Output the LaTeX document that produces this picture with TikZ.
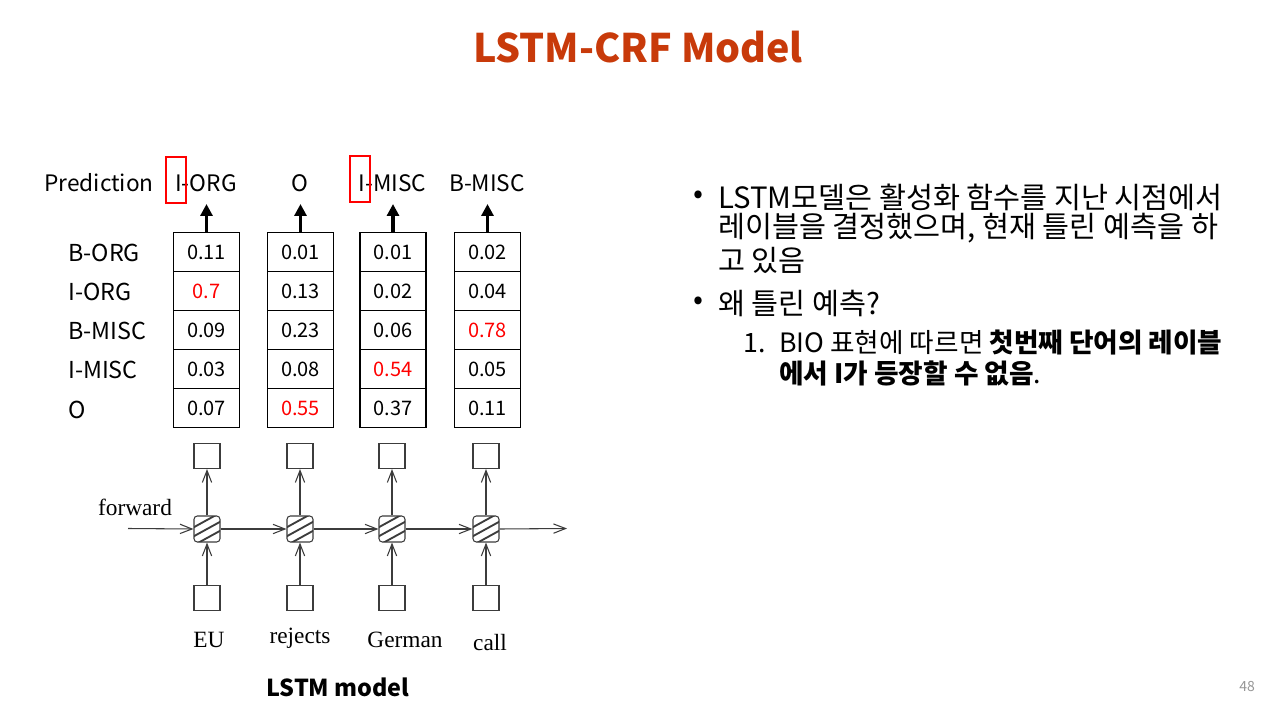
\documentclass[tikz,border=0pt]{standalone}
\usepackage{fontspec}
\setmainfont{Noto Sans CJK KR}
\newfontfamily\wordfont{Liberation Serif}
\usetikzlibrary{arrows.meta}
\definecolor{titlered}{RGB}{200,58,10}
\definecolor{linegray}{RGB}{60,60,60}
\definecolor{pagegray}{RGB}{150,150,150}
\newcommand\hl[1]{\textcolor{red}{#1}}

% one picture unit = one pixel = 0.75pt
\tikzset{
  cell/.style={draw, line width=0.8pt, minimum width=49.5pt, minimum height=29.25pt, inner sep=0pt, font=\fontsize{15}{18}\selectfont},
  rowlabel/.style={anchor=west, inner sep=0pt, font=\fontsize{17.5}{20}\selectfont},
  predlabel/.style={inner sep=0pt, font=\fontsize{17}{20}\selectfont},
  redbox/.style={draw=red, line width=2pt, minimum width=15pt, minimum height=34.5pt, inner sep=0pt},
  bigarrow/.style={line width=2.4pt, -{Triangle[length=9pt,width=9pt]}},
  lstmcell/.style={draw=linegray, line width=0.8pt, rounded corners=2.5pt, minimum size=19.5pt, inner sep=0pt,
    path picture={
      \foreach \k in {-9,0,9}
        \draw[line width=1.4pt]
          ([shift={(-16,8.8+\k)}]path picture bounding box.center) --
          ([shift={(16,-8.8+\k)}]path picture bounding box.center);
    }},
  unitbox/.style={draw=linegray, line width=0.8pt, minimum width=19.5pt, minimum height=18.75pt, inner sep=0pt},
  thinarrow/.style={draw=linegray, line width=0.8pt, -{Straight Barb[length=9pt,width=7pt]}},
  word/.style={inner sep=0pt, font=\wordfont\fontsize{17.5}{20}\selectfont},
  bodytext/.style={anchor=west, inner sep=0pt, font=\fontsize{22}{26}\selectfont},
  subtext/.style={anchor=west, inner sep=0pt, font=\fontsize{20}{24}\selectfont},
}

\begin{document}
\begin{tikzpicture}[x=0.75pt, y=-0.75pt]
\useasboundingbox (0,0) rectangle (1280,720);

% title
\node[text=titlered, font=\bfseries\fontsize{29.5}{34}\selectfont] (title) at (638,47) {LSTM-CRF Model};

% prediction row
\node[predlabel, anchor=west] (predword) at (44,183) {Prediction};
\node[predlabel] (p1) at (206,183) {I-ORG};
\node[predlabel] (p2) at (300,183) {O};
\node[predlabel] (p3) at (392.5,183) {I-MISC};
\node[predlabel] (p4) at (487,183) {B-MISC};
\node[redbox] (r1) at (176,180) {};
\node[redbox] (r3) at (360,179) {};

% tag labels
\node[rowlabel] (l1) at (68,253) {B-ORG};
\node[rowlabel] (l2) at (68,292) {I-ORG};
\node[rowlabel] (l3) at (68,331) {B-MISC};
\node[rowlabel] (l4) at (68,370) {I-MISC};
\node[rowlabel] (l5) at (68,410) {O};

% score columns
\foreach \c/\x/\vals in {
  1/206.5/{0.11,\hl{0.7},0.09,0.03,0.07},
  2/300.5/{0.01,0.13,0.23,0.08,\hl{0.55}},
  3/393/{0.01,0.02,0.06,\hl{0.54},0.37},
  4/487.5/{0.02,0.04,\hl{0.78},0.05,0.11}} {
  \foreach \v [count=\r] in \vals {
    \node[cell] (t\c-\r) at (\x,{213+39*\r}) {\v};
  }
  \coordinate (a\c) at (\x,204);
  \draw[bigarrow] (t\c-1.north) -- (a\c);
}

% LSTM chain
\coordinate (start) at (128,528.5);
\coordinate (finish) at (567,528.5);
\foreach \i/\x in {1/207,2/300,3/392,4/486} {
  \node[lstmcell] (c\i) at (\x,529) {};
  \node[unitbox] (o\i) at (\x,456) {};
  \node[unitbox] (w\i) at (\x,598) {};
  \draw[thinarrow] (c\i.north) -- (o\i.south);
  \draw[thinarrow] (w\i.north) -- (c\i.south);
}
\draw[thinarrow] (start) -- (c1.west);
\draw[thinarrow] (c1.east) -- (c2.west);
\draw[thinarrow] (c2.east) -- (c3.west);
\draw[thinarrow] (c3.east) -- (c4.west);
\draw[thinarrow] (c4.east) -- (finish);

\node[word] (fw) at (135,507) {forward};
\node[word] (e1) at (209,640) {EU};
\node[word] (e2) at (300,638) {rejects};
\node[word] (e3) at (405,640) {German};
\node[word] (e4) at (490,643) {call};

\node[font=\bfseries\fontsize{17.5}{21}\selectfont] (cap) at (338,687) {LSTM model};

% explanation
\node[bodytext] (b1) at (693,197) {•};
\node[bodytext] (t1) at (718,197) {LSTM모델은 활성화 함수를 지난 시점에서};
\node[bodytext] (t2) at (718,228) {레이블을 결정했으며, 현재 틀린 예측을 하};
\node[bodytext] (t3) at (718,260) {고 있음};
\node[bodytext] (b2) at (693,303) {•};
\node[bodytext] (t4) at (718,303) {왜 틀린 예측?};
\node[subtext] (n1) at (743,343) {1.};
\node[subtext] (t5) at (779,343) {BIO 표현에 따르면 \textbf{첫번째 단어의 레이블}};
\node[subtext] (t6) at (779,373) {\textbf{에서 I가 등장할 수 없음}.};

% page number
\node[text=pagegray, font=\fontsize{10.5}{12}\selectfont] (pg) at (1247,687) {48};
\end{tikzpicture}
\end{document}
